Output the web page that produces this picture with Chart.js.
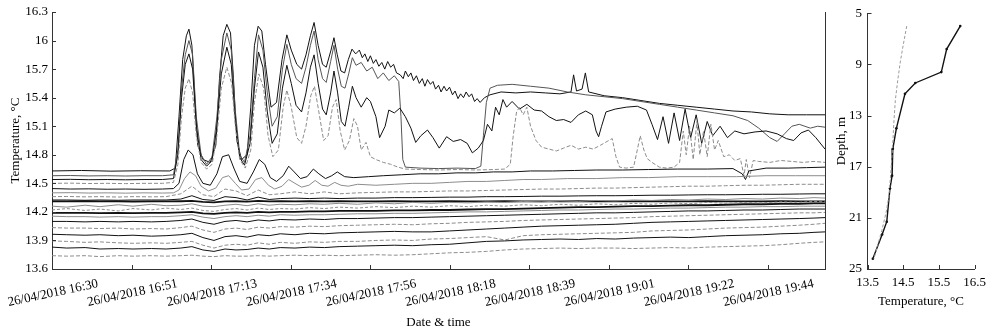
<!DOCTYPE html>
<html>
<head>
<meta charset="utf-8">
<script src="https://cdn.jsdelivr.net/npm/chart.js@4"></script>
<style>
  body { margin: 0; background: #fff; }
  #wrap { position: relative; width: 993px; height: 333px; overflow: hidden; }
  #series { position: absolute; left: 0; top: 0; }
  #profile { position: absolute; left: 830px; top: 0; }
</style>
</head>
<body>
<div id="wrap">
  <canvas id="series" width="830" height="333"></canvas>
  <canvas id="profile" width="163" height="333"></canvas>
</div>
<script>
const FONT = 'Liberation Serif';
const BLACK = '#111';
const GREY = '#8c8c8c';

// time axis, minutes after 26/04/2018 16:30
const timeTicks = [0, 21.6, 43.2, 64.8, 86.4, 108, 129.6, 151.2, 172.8, 194.4];
const timeLabels = ['26/04/2018 16:30', '26/04/2018 16:51', '26/04/2018 17:13', '26/04/2018 17:34',
  '26/04/2018 17:56', '26/04/2018 18:18', '26/04/2018 18:39', '26/04/2018 19:01',
  '26/04/2018 19:22', '26/04/2018 19:44'];
const tempTicks = [13.6, 13.9, 14.2, 14.5, 14.8, 15.1, 15.4, 15.7, 16, 16.3];

// upper sensors: [minute, temperature]
const s01 = [[0,14.63],[8,14.635],[16,14.628],[24,14.632],[32,14.63],[33.5,14.66],[34.5,15.2],[35.5,15.8],[36.5,16.05],[37.2,16.12],[38,15.95],[38.8,15.4],[39.6,14.9],[41,14.75],[43,14.72],[44.5,14.9],[45.5,15.6],[46.5,16.05],[47.5,16.17],[48.5,16.08],[49.3,15.6],[50.2,14.95],[51.5,14.75],[53,14.8],[54,15.3],[55,15.95],[56,16.15],[57,16.1],[58,15.75],[59.5,15.3],[61,15.35],[62.5,15.8],[63.8,16.06],[65,15.9],[66.5,15.75],[67.8,15.7],[69,15.85],[70.2,16.05],[71.2,16.19],[72.3,15.95],[73.5,15.75],[74.5,15.72],[75.8,15.9],[76.6,16.03],[77.5,15.85],[78.5,15.68],[79.5,15.66],[80.5,15.8],[81.5,15.91],[82.5,15.86],
  [83.5,15.9],[84.3,15.82],[85,15.86],[85.8,15.78],[86.5,15.84],[87.3,15.76],[88,15.8],[88.8,15.73],[89.6,15.77],[90.4,15.7],[91.2,15.78],[92,15.72],[92.8,15.75],[93.6,15.66],
  [94.6,15.64],[95.4,15.6],[96,15.68],[96.8,15.62],[97.5,15.66],[98.2,15.58],[99,15.63],[99.8,15.55],[100.6,15.6],[101.3,15.52],[102,15.59],[102.8,15.54],[103.5,15.57],[104.2,15.49],[105,15.53],[105.7,15.46],[106.5,15.52],[107.2,15.47],[108,15.51],[108.8,15.43],[109.5,15.47],[110.3,15.39],[111,15.44],[111.8,15.4],[112.5,15.46],[113.3,15.41],[114,15.44],[114.8,15.36],[115.5,15.39],[116.3,15.35],
  [117.5,15.4],[119,15.43],[122,15.46],[126,15.45],[130,15.46],[134,15.45],[138,15.44],[141,15.46],[141.7,15.64],[142.5,15.47],[144,15.49],[144.9,15.66],[145.8,15.46],[150,15.42],[155,15.4],[160,15.37],[165,15.34],[170,15.32],[175,15.3],[180,15.28],[185,15.26],[190,15.25],[195,15.23],[200,15.22],[205,15.22],[210,15.22]];

const s02 = [[0,14.58],[5,14.582],[10,14.578],[15,14.58],[20,14.577],[25,14.58],[30,14.58],[33,14.59],[34.2,14.85],[35.2,15.5],[36.2,15.85],[37.2,16.0],[38.2,15.85],[39.2,15.2],[40.5,14.8],[42,14.7],[43.5,14.78],[44.8,15.2],[46,15.8],[47.5,16.08],[48.7,15.9],[49.7,15.3],[51,14.8],[52.3,14.72],[53.8,15.0],[55,15.6],[56.1,16.06],[57.3,15.9],[58.5,15.45],[59.8,15.1],[61.2,15.2],[62.6,15.7],[63.8,15.96],[65,15.75],[66.3,15.6],[67.8,15.55],[69,15.72],[70.2,15.95],[71.2,16.1],[72.3,15.8],[73.5,15.6],[74.5,15.56],[75.7,15.78],[76.6,15.95],[77.6,15.7],[78.6,15.52],[79.6,15.5],[80.6,15.65],[81.6,15.82],[82.6,15.74],[84,15.77],[85.5,15.68],[87,15.72],[88.5,15.6],[90,15.66],[91.5,15.58],[93,15.63],[94.2,15.57],[94.8,15.2],[95.3,14.75],[96,14.67],[100,14.66],[105,14.655],[110,14.66],[115,14.655],[116.5,14.68],[117.2,15.0],[118,15.35],[119,15.5],[121,15.53],[125,15.54],[130,15.52],[135,15.5],[140,15.46],[145,15.43],[150,15.41],[155,15.39],[160,15.36],[165,15.33],[170,15.3],[175,15.27],[180,15.24],[185,15.21],[189,15.16],[192,15.08],[195,14.98],[197,14.94],[199,15.02],[201,15.1],[203,15.12],[206,15.08],[208,15.1],[210,15.09]];

const s03 = [[0,14.54],[5,14.542],[10,14.538],[15,14.54],[20,14.537],[25,14.54],[30,14.54],[33,14.55],[34.2,14.8],[35.2,15.4],[36.2,15.75],[37.2,15.86],[38.2,15.7],[39.2,15.1],[40.5,14.75],[42,14.68],[43.5,14.74],[44.8,15.1],[46,15.65],[47.5,15.93],[48.7,15.75],[49.7,15.2],[51,14.77],[52.3,14.69],[53.8,14.92],[55,15.5],[56.1,15.88],[57.3,15.72],[58.5,15.25],[59.8,14.92],[61.2,15.02],[62.6,15.5],[63.8,15.74],[65,15.55],[66.3,15.32],[67.8,15.25],[69,15.45],[70.2,15.72],[71.2,15.85],[72.3,15.55],[73.5,15.28],[74.5,15.22],[75.7,15.45],[76.6,15.68],[77.6,15.45],[78.6,15.15],[79.6,15.1],[80.6,15.3],[81.6,15.52],[82.6,15.4],[84,15.3],[85.5,15.4],[86.5,15.36],[88,15.2],[89,14.98],[90.5,15.1],[91.5,15.27],[93,15.24],[94.5,15.29],[96,15.2],[97.5,15.08],[98.8,14.93],[100.2,15.0],[102,15.06],[103.5,14.98],[105.2,14.87],[107.2,14.99],[109,14.94],[111,14.96],[112.8,14.92],[114.2,14.82],[115.8,14.87],[117.2,14.95],[118.3,15.12],[119.5,15.05],[120.5,15.3],[121.5,15.22],[122.5,15.38],[123.5,15.3],[125,15.36],[127,15.28],[129,15.33],[131,15.27],[133,15.26],[135,15.2],[137,15.16],[139,15.17],[141,15.14],[143,15.22],[145,15.26],[146.8,15.22],[147.8,15.05],[148.5,14.99],[149.3,15.1],[150.5,15.25],[153,15.28],[156,15.3],[159,15.31],[161.5,15.27],[163,15.12],[164.5,14.96],[166,15.2],[167.5,14.92],[169,15.24],[170.5,14.95],[172,15.28],[173.5,14.98],[175,15.22],[176.5,14.92],[178,15.15],[179.5,15.0],[181.5,15.1],[183.5,14.98],[185.5,15.05],[188,15.02],[191,15.04],[194,15.05],[197,15.02],[199.5,14.97],[201.5,14.95],[203.5,15.03],[205.5,15.06],[207.5,14.98],[210,14.86]];

const s04 = [[0,14.5],[5,14.502],[10,14.498],[15,14.5],[20,14.497],[25,14.5],[30,14.5],[33,14.51],[34.2,14.7],[35.2,15.2],[36.2,15.5],[37.2,15.6],[38.2,15.45],[39.2,15.0],[40.5,14.72],[42,14.65],[43.5,14.7],[44.8,15.0],[46,15.5],[47.5,15.72],[48.8,15.55],[49.8,15.1],[51,14.75],[52.5,14.66],[54,14.85],[55,15.35],[56.2,15.65],[57.5,15.5],[58.7,15.0],[60,14.78],[61.5,14.85],[62.8,15.3],[63.8,15.48],[65,15.3],[66.5,14.98],[67.8,14.92],[69,15.1],[70.3,15.42],[71.3,15.52],[72.5,15.25],[73.8,14.95],[75,15.0],[76.2,15.3],[77.2,15.38],[78.3,15.05],[79.5,14.85],[80.8,14.95],[82,15.18],[83,15.1],[84,14.85],[85.3,14.93],[86.5,14.78],[88,14.75],[90,14.72],[92,14.7],[94,14.67],[96,14.65],[100,14.645],[105,14.64],[110,14.645],[115,14.64],[120,14.645],[123,14.65],[124.5,14.7],[125.3,15.0],[126.2,15.25],[127,15.3],[128,15.22],[129,15.3],[130,15.1],[131.5,14.95],[133,14.88],[135,14.86],[137,14.84],[139,14.87],[141,14.9],[143,14.86],[145,14.88],[147,14.86],[149,14.9],[150.8,14.94],[152.2,14.97],[153.2,14.78],[154.2,14.67],[156,14.66],[158,14.67],[159,14.85],[159.8,15.0],[160.8,14.85],[161.7,14.76],[163,14.72],[165,14.67],[167,14.66],[169,14.67],[170.5,14.72],[171.5,15.05],[172.3,14.8],[173.2,15.1],[174.2,14.75],[175.2,15.15],[176,14.8],[177,15.05],[178,14.78],[179,15.12],[180,14.85],[181,14.95],[182.5,14.78],[184,14.8],[185.5,14.74],[187,14.76],[188,14.58],[188.6,14.75],[189.5,14.56],[190.5,14.74],[192,14.73],[195,14.72],[198,14.74],[201,14.73],[204,14.72],[207,14.73],[210,14.72]];

const s05 = [[0,14.445],[5,14.44],[10,14.442],[15,14.438],[20,14.44],[25,14.437],[30,14.44],[33,14.445],[34.5,14.5],[35.8,14.75],[37,14.85],[38.3,14.8],[39.5,14.6],[41,14.5],[43,14.48],[44.8,14.6],[46.3,14.78],[48,14.8],[49.5,14.65],[51,14.52],[53,14.5],[54.7,14.62],[56.3,14.75],[57.8,14.7],[59.3,14.56],[61,14.52],[62.8,14.58],[64.3,14.68],[65.8,14.62],[67.5,14.55],[69.3,14.57],[71,14.65],[72.5,14.6],[74.3,14.55],[76,14.58],[77.5,14.62],[79.5,14.57],[82,14.56],[86,14.57],[90,14.58],[95,14.59],[100,14.6],[105,14.6],[110,14.61],[115,14.61],[120,14.62],[125,14.62],[130,14.63],[136,14.63],[142,14.635],[148,14.64],[155,14.64],[162,14.645],[170,14.65],[178,14.65],[185,14.655],[187.5,14.6],[188.4,14.54],[189.3,14.63],[194,14.66],[200,14.66],[205,14.665],[210,14.67]];

const s06 = [[0,14.4],[5,14.402],[10,14.398],[15,14.4],[20,14.397],[25,14.4],[30,14.398],[33,14.4],[34.5,14.43],[36,14.55],[37.5,14.62],[39,14.58],[40.5,14.47],[42.5,14.42],[44.5,14.45],[46.3,14.56],[48,14.58],[49.8,14.5],[51.5,14.43],[53.5,14.44],[55.3,14.54],[57,14.56],[58.8,14.48],[60.5,14.44],[62.5,14.47],[64.3,14.54],[66,14.5],[67.8,14.46],[69.8,14.48],[71.5,14.53],[73.3,14.48],[75,14.47],[76.8,14.51],[78.5,14.48],[80.5,14.47],[83,14.49],[88,14.48],[93,14.49],[98,14.5],[103,14.5],[108,14.51],[113,14.52],[118,14.52],[123,14.53],[128,14.54],[133,14.54],[140,14.55],[148,14.55],[155,14.56],[162,14.56],[170,14.57],[178,14.57],[186,14.57],[194,14.58],[202,14.58],[210,14.58]];

// lower sensors, sampled on a common time grid
const tLow = [0,4,9,13,18,22,27, 31,35,38,41,44,47,50, 53,56,59,62,66,70,74, 78,83,88,93,98,103,108, 113,118,123,128,133,138,143, 148,153,158,163,168,173,178, 183,188,193,198,203,207,210];

const s07 = [14.36,14.362,14.358,14.36,14.356,14.36,14.358, 14.36,14.39,14.47,14.38,14.36,14.44,14.42, 14.37,14.43,14.38,14.39,14.41,14.39,14.41, 14.39,14.4,14.405,14.41,14.41,14.415,14.42, 14.42,14.425,14.43,14.435,14.44,14.44,14.445, 14.45,14.45,14.455,14.46,14.465,14.47,14.47, 14.475,14.48,14.48,14.485,14.49,14.49,14.49];
const s08 = [14.325,14.325,14.322,14.325,14.322,14.325,14.325, 14.325,14.335,14.37,14.33,14.32,14.36,14.35, 14.325,14.355,14.33,14.34,14.345,14.34,14.345, 14.34,14.345,14.345,14.35,14.35,14.352,14.355, 14.355,14.36,14.36,14.362,14.365,14.365,14.368, 14.37,14.37,14.372,14.375,14.375,14.378,14.38, 14.38,14.382,14.385,14.385,14.388,14.39,14.39];
const s09 = [14.31,14.31,14.312,14.31,14.31,14.308,14.31, 14.31,14.312,14.315,14.305,14.3,14.31,14.312, 14.308,14.315,14.31,14.312,14.31,14.312,14.31, 14.312,14.31,14.31,14.312,14.31,14.31,14.312, 14.31,14.31,14.312,14.31,14.31,14.31,14.312, 14.31,14.31,14.31,14.312,14.31,14.31,14.312, 14.31,14.31,14.31,14.312,14.31,14.31,14.31];
const s10 = [14.26,14.25,14.27,14.255,14.275,14.26,14.28, 14.265,14.27,14.285,14.26,14.255,14.27,14.28, 14.265,14.285,14.27,14.28,14.275,14.285,14.28, 14.29,14.28,14.295,14.285,14.3,14.29,14.3, 14.295,14.305,14.3,14.31,14.305,14.315,14.31, 14.32,14.315,14.325,14.32,14.33,14.325,14.335, 14.33,14.34,14.335,14.345,14.34,14.35,14.345];
const s11 = [14.22,14.235,14.215,14.23,14.21,14.235,14.22, 14.24,14.225,14.24,14.215,14.205,14.225,14.235, 14.22,14.24,14.225,14.235,14.23,14.245,14.235, 14.25,14.24,14.255,14.245,14.26,14.25,14.265, 14.255,14.27,14.26,14.275,14.265,14.28,14.27, 14.285,14.275,14.29,14.28,14.295,14.285,14.3, 14.29,14.3,14.295,14.305,14.3,14.31,14.305];
const s12 = [14.19,14.19,14.19,14.188,14.19,14.188,14.19, 14.19,14.195,14.2,14.185,14.18,14.19,14.195, 14.19,14.2,14.195,14.2,14.2,14.205,14.205, 14.21,14.21,14.21,14.215,14.215,14.22,14.22, 14.225,14.23,14.23,14.235,14.24,14.245,14.25, 14.25,14.255,14.26,14.26,14.265,14.27,14.27, 14.275,14.28,14.28,14.285,14.285,14.29,14.29];
const s13 = [14.155,14.15,14.15,14.145,14.15,14.145,14.15, 14.15,14.16,14.17,14.145,14.13,14.15,14.16, 14.15,14.165,14.155,14.17,14.165,14.17,14.17, 14.175,14.18,14.18,14.185,14.185,14.19,14.195, 14.2,14.2,14.205,14.21,14.215,14.22,14.22, 14.225,14.23,14.23,14.235,14.24,14.24,14.245, 14.25,14.25,14.255,14.255,14.26,14.26,14.26];
const s14 = [14.1,14.1,14.095,14.1,14.095,14.1,14.095, 14.1,14.11,14.125,14.09,14.07,14.1,14.11, 14.095,14.115,14.105,14.12,14.115,14.125,14.12, 14.13,14.13,14.135,14.14,14.14,14.145,14.15, 14.155,14.16,14.165,14.17,14.175,14.18,14.185, 14.19,14.19,14.195,14.2,14.205,14.21,14.21, 14.215,14.22,14.22,14.225,14.23,14.23,14.23];
const s15 = [14.035,14.03,14.03,14.025,14.03,14.02,14.025, 14.02,14.035,14.05,14.01,13.985,14.02,14.03, 14.015,14.04,14.03,14.045,14.04,14.05,14.045, 14.055,14.06,14.065,14.07,14.065,14.075,14.08, 14.09,14.095,14.1,14.11,14.115,14.12,14.125, 14.13,14.135,14.14,14.15,14.155,14.16,14.165, 14.17,14.175,14.18,14.185,14.19,14.19,14.195];
const s16 = [13.965,13.96,13.955,13.96,13.95,13.955,13.945, 13.95,13.96,13.975,13.93,13.9,13.94,13.95, 13.935,13.96,13.95,13.97,13.96,13.975,13.97, 13.98,13.985,13.99,13.995,13.99,13.99,14.0, 14.01,14.02,14.03,14.04,14.05,14.055,14.06, 14.065,14.07,14.08,14.09,14.095,14.1,14.105, 14.11,14.115,14.12,14.125,14.13,14.135,14.14];
const s17 = [13.895,13.89,13.88,13.885,13.875,13.87,13.875, 13.87,13.88,13.89,13.85,13.82,13.85,13.86, 13.85,13.875,13.86,13.88,13.87,13.885,13.88, 13.89,13.89,13.9,13.905,13.9,13.915,13.92, 13.93,13.94,13.905,13.95,13.96,13.965,13.97, 13.975,13.98,13.985,14.0,14.005,14.01,14.02, 14.03,14.035,14.04,14.05,14.06,14.07,14.08];
const s18 = [13.83,13.82,13.825,13.81,13.815,13.81,13.815, 13.81,13.82,13.835,13.8,13.785,13.81,13.8, 13.805,13.82,13.81,13.825,13.82,13.83,13.825, 13.835,13.84,13.845,13.85,13.845,13.855,13.86, 13.875,13.89,13.895,13.905,13.91,13.915,13.91, 13.92,13.915,13.925,13.93,13.935,13.93,13.94, 13.95,13.955,13.96,13.97,13.975,13.985,13.99];
const s19 = [13.74,13.735,13.74,13.73,13.74,13.735,13.74, 13.735,13.74,13.745,13.735,13.73,13.74,13.735, 13.735,13.74,13.735,13.74,13.745,13.74,13.745, 13.74,13.745,13.75,13.745,13.75,13.76,13.77, 13.775,13.785,13.8,13.81,13.815,13.82,13.815, 13.82,13.82,13.815,13.82,13.825,13.82,13.83, 13.835,13.84,13.845,13.855,13.87,13.88,13.885];

// vertical profiles (right panel)
const profileTemp = [16.1, 15.72, 15.57, 14.84, 14.55, 14.31, 14.21, 14.19, 14.13, 14.04, 13.91, 13.65];
const profileDepth = [6.0, 7.8, 9.6, 10.45, 11.3, 14.0, 15.6, 17.7, 18.7, 21.3, 22.3, 24.2];
const meanTemp = [14.6, 14.5, 14.42, 14.35, 14.28, 14.24, 14.2, 14.15, 14.1, 14.02, 13.9, 13.68];
const meanDepth = [6.0, 7.5, 8.8, 10.2, 11.8, 13.5, 15.6, 17.6, 19.3, 20.6, 22.0, 24.2];
const depthTicks = [5, 9, 13, 17, 21, 25];
const profTempTicks = [13.5, 14.5, 15.5, 16.5];

function pairs(arr) { return arr.map(p => ({x: p[0], y: p[1]})); }
function onLow(vals) { return tLow.map((t, i) => ({x: t, y: vals[i]})); }
function line(data, color, width, dash) {
  return { data: data, borderColor: color, borderWidth: width || 1, borderDash: dash || [],
    pointRadius: 0, fill: false, tension: 0 };
}

// MATLAB-like inward tick marks (+ optional right frame line)
const innerTicks = {
  id: 'innerTicks',
  afterDraw(chart, args, opts) {
    const {ctx, chartArea: a, scales: {x, y}} = chart;
    ctx.save();
    ctx.strokeStyle = '#333';
    ctx.lineWidth = 1;
    ctx.beginPath();
    y.ticks.forEach(t => {
      const py = Math.round(y.getPixelForValue(t.value)) + 0.5;
      ctx.moveTo(a.left, py); ctx.lineTo(a.left + 4, py);
    });
    x.ticks.forEach(t => {
      const px = Math.round(x.getPixelForValue(t.value)) + 0.5;
      ctx.moveTo(px, a.bottom); ctx.lineTo(px, a.bottom - 4);
    });
    if (opts.rightBorder) {
      ctx.moveTo(Math.round(a.right) + 0.5, a.top);
      ctx.lineTo(Math.round(a.right) + 0.5, a.bottom);
    }
    ctx.stroke();
    ctx.restore();
  }
};

const tickFont = { family: FONT, size: 13 };
const axisBorder = { color: '#333', width: 1 };
const noGrid = { drawOnChartArea: false, drawTicks: false };

new Chart(document.getElementById('series'), {
  type: 'line',
  data: {
    datasets: [
      line(onLow(s19), GREY, 1, [4, 2]),
      line(onLow(s18), BLACK),
      line(onLow(s17), GREY, 1, [4, 2]),
      line(onLow(s16), BLACK),
      line(onLow(s15), GREY, 1, [4, 2]),
      line(onLow(s14), BLACK),
      line(onLow(s13), GREY),
      line(onLow(s11), GREY, 1, [3, 2]),
      line(onLow(s10), GREY),
      line(onLow(s12), BLACK, 1.8),
      line(onLow(s09), BLACK, 1.8),
      line(onLow(s08), BLACK),
      line(onLow(s07), GREY, 1, [4, 2]),
      line(pairs(s06), GREY),
      line(pairs(s05), BLACK),
      line(pairs(s04), GREY, 1, [4, 2]),
      line(pairs(s03), BLACK),
      line(pairs(s02), '#555'),
      line(pairs(s01), BLACK)
    ]
  },
  options: {
    responsive: false,
    animation: false,
    layout: { padding: { top: 12, right: 5, bottom: 0, left: 0 } },
    plugins: { legend: { display: false }, tooltip: { enabled: false }, innerTicks: { rightBorder: true } },
    scales: {
      x: {
        type: 'linear', min: 0, max: 210,
        afterBuildTicks: s => { s.ticks = timeTicks.map(v => ({value: v})); },
        afterFit: s => { s.height = 64; s.paddingLeft = 0; s.paddingRight = 0; },
        grid: noGrid, border: axisBorder,
        ticks: { autoSkip: false, minRotation: 12, maxRotation: 12, labelOffset: 46, padding: 7,
          color: '#000', font: tickFont, callback: (v, i) => timeLabels[i] },
        title: { display: true, text: 'Date & time', color: '#000', font: tickFont, padding: { top: 0, bottom: 3 } }
      },
      y: {
        type: 'linear', min: 13.6, max: 16.3,
        afterBuildTicks: s => { s.ticks = tempTicks.map(v => ({value: v})); },
        afterFit: s => { s.width = 52; },
        grid: noGrid, border: axisBorder,
        ticks: { padding: 4, color: '#000', font: tickFont, callback: v => String(+v.toFixed(1)) },
        title: { display: true, text: 'Temperature, °C', color: '#000', font: tickFont, padding: { top: 8, bottom: 0 } }
      }
    }
  },
  plugins: [innerTicks]
});

new Chart(document.getElementById('profile'), {
  type: 'line',
  data: {
    datasets: [
      { data: meanTemp.map((t, i) => ({x: t, y: meanDepth[i]})), borderColor: '#9a9a9a', borderWidth: 1,
        borderDash: [3, 2], pointRadius: 0, fill: false, tension: 0 },
      { data: profileTemp.map((t, i) => ({x: t, y: profileDepth[i]})), borderColor: BLACK, borderWidth: 1.4,
        pointRadius: 1.3, pointBackgroundColor: BLACK, pointBorderWidth: 0, fill: false, tension: 0 }
    ]
  },
  options: {
    responsive: false,
    animation: false,
    layout: { padding: { top: 12, right: 18.5, bottom: 0, left: 0 } },
    plugins: { legend: { display: false }, tooltip: { enabled: false }, innerTicks: { rightBorder: false } },
    scales: {
      x: {
        type: 'linear', min: 13.5, max: 16.5,
        afterBuildTicks: s => { s.ticks = profTempTicks.map(v => ({value: v})); },
        afterFit: s => { s.height = 64; s.paddingLeft = 0; s.paddingRight = 0; },
        grid: noGrid, border: axisBorder,
        ticks: { autoSkip: false, maxRotation: 0, padding: 6, color: '#000', font: tickFont, callback: v => v.toFixed(1) },
        title: { display: true, text: 'Temperature, °C', color: '#000', font: tickFont, padding: { top: 0, bottom: 24 } }
      },
      y: {
        type: 'linear', reverse: true, min: 5, max: 25,
        afterBuildTicks: s => { s.ticks = depthTicks.map(v => ({value: v})); },
        afterFit: s => { s.width = 37.5; },
        grid: noGrid, border: axisBorder,
        ticks: { padding: 5.5, color: '#000', font: tickFont },
        title: { display: true, text: 'Depth, m', color: '#000', font: tickFont, padding: { top: 4, bottom: 0 } }
      }
    }
  },
  plugins: [innerTicks]
});
</script>
</body>
</html>
